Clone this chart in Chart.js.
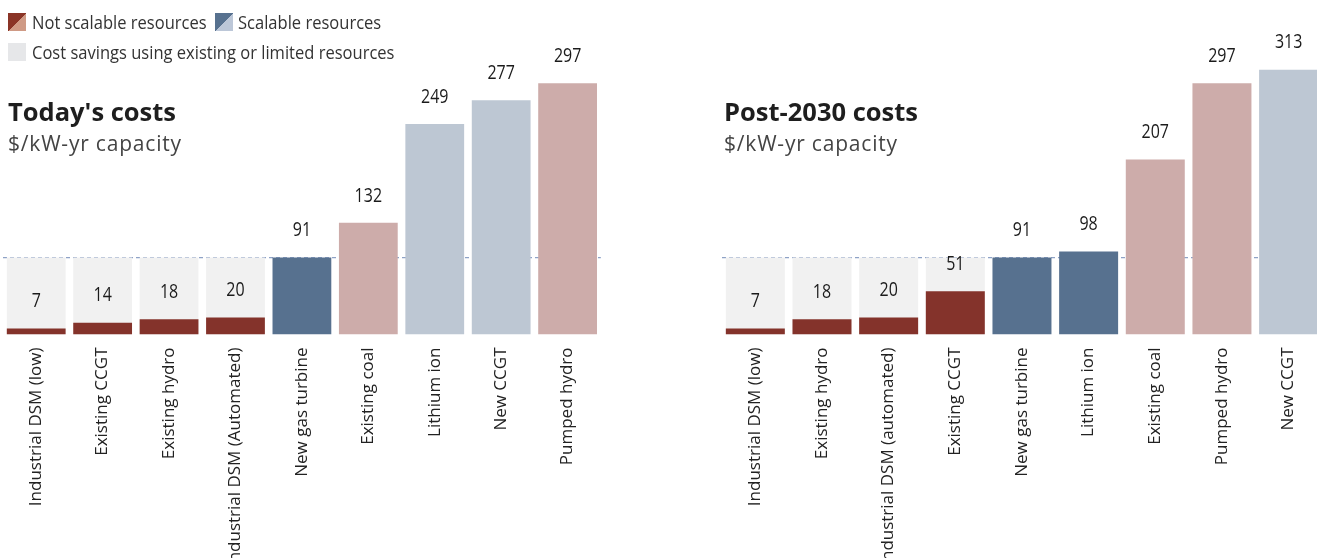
<!DOCTYPE html>
<html>
<head>
<meta charset="utf-8">
<script src="https://cdn.jsdelivr.net/npm/chart.js@4/dist/chart.umd.min.js"></script>
<style>
  body { margin: 0; background: #fff; }
  #wrap { position: relative; width: 1317px; height: 558px; overflow: hidden; font-family: "Open Sans", sans-serif; }
  canvas { position: absolute; top: 0; }
  .txt { position: absolute; white-space: nowrap; z-index: 2; }
  .leg { font-size: 19px; color: #333; transform: scaleX(0.87); transform-origin: left top; line-height: 20px; }
  .sw { position: absolute; width: 18px; height: 18px; z-index: 2; }
  .title { font-weight: 700; font-size: 25.5px; color: #1e1e1e; line-height: 30px; }
  .sub { font-size: 21px; color: #444; line-height: 24px; letter-spacing: 0.8px; }
</style>
</head>
<body>
<div id="wrap">
  <div class="sw" style="left:8px;top:13px;background:linear-gradient(to bottom right,#8a3426 50%,#cf9a85 50%);"></div>
  <div class="txt leg" style="left:32px;top:12px;">Not scalable resources</div>
  <div class="sw" style="left:215px;top:13px;background:linear-gradient(to bottom right,#57718f 50%,#bcc7d8 50%);"></div>
  <div class="txt leg" style="left:238px;top:12px;">Scalable resources</div>
  <div class="sw" style="left:8px;top:43px;background:#e6e7e9;"></div>
  <div class="txt leg" style="left:32px;top:42px;">Cost savings using existing or limited resources</div>

  <div class="txt title" style="left:8px;top:96px;">Today's costs</div>
  <div class="txt sub" style="left:8px;top:131px;">$/kW-yr capacity</div>
  <div class="txt title" style="left:724px;top:96px;">Post-2030 costs</div>
  <div class="txt sub" style="left:724px;top:131px;">$/kW-yr capacity</div>

  <canvas id="today" width="598" height="558" style="left:3px;"></canvas>
  <canvas id="post" width="600" height="558" style="left:722px;"></canvas>
</div>
<script>
// today's costs
var todayLabels = ['Industrial DSM (low)', 'Existing CCGT', 'Existing hydro', 'Industrial DSM (Automated)',
  'New gas turbine', 'Existing coal', 'Lithium ion', 'New CCGT', 'Pumped hydro'];
var todayCosts = [7, 14, 18, 20, 91, 132, 249, 277, 297];
var todaySavings = [91, 91, 91, 91, null, null, null, null, null];
var todayKinds = ['limited', 'limited', 'limited', 'limited', 'scalable', 'notScalable', 'scalableHigh', 'scalableHigh', 'notScalable'];

// post-2030 costs
var postLabels = ['Industrial DSM (low)', 'Existing hydro', 'Industrial DSM (automated)', 'Existing CCGT',
  'New gas turbine', 'Lithium ion', 'Existing coal', 'Pumped hydro', 'New CCGT'];
var postCosts = [7, 18, 20, 51, 91, 98, 207, 297, 313];
var postSavings = [91, 91, 91, 91, null, null, null, null, null];
var postKinds = ['limited', 'limited', 'limited', 'limited', 'scalable', 'scalable', 'notScalable', 'notScalable', 'scalableHigh'];

var threshold = 91;

var kindColors = {
  limited: '#84332b',
  scalable: '#57718f',
  notScalable: '#cdacaa',
  scalableHigh: '#bdc7d3'
};

// dashed line at the new gas turbine cost, drawn under the bars
var thresholdLine = {
  id: 'thresholdLine',
  beforeDatasetsDraw: function(chart) {
    var ctx = chart.ctx, area = chart.chartArea;
    var y = chart.scales.y.getPixelForValue(threshold);
    ctx.save();
    ctx.strokeStyle = '#8ea2c6';
    ctx.lineWidth = 1.3;
    ctx.setLineDash([4, 3]);
    ctx.beginPath();
    ctx.moveTo(area.left, y);
    ctx.lineTo(area.right, y);
    ctx.stroke();
    ctx.restore();
  }
};

// value labels above each cost bar
var valueLabels = {
  id: 'valueLabels',
  afterDatasetsDraw: function(chart) {
    var ctx = chart.ctx;
    var meta = chart.getDatasetMeta(0);
    var values = chart.data.datasets[0].data;
    ctx.save();
    ctx.font = '20px "Open Sans"';
    ctx.fillStyle = '#1b1b1b';
    ctx.textAlign = 'center';
    ctx.textBaseline = 'middle';
    meta.data.forEach(function(bar, i) {
      ctx.save();
      ctx.translate(bar.x, bar.y - 27);
      ctx.scale(0.8, 1);
      ctx.fillText(values[i], 0, 0);
      ctx.restore();
    });
    ctx.restore();
  }
};

makeChart = function(id, labels, costs, savings, kinds) {
  return new Chart(document.getElementById(id), {
    type: 'bar',
    data: {
      labels: labels,
      datasets: [
        {
          data: costs,
          backgroundColor: kinds.map(function(k) { return kindColors[k]; }),
          borderWidth: 0,
          grouped: false,
          barPercentage: 0.885,
          categoryPercentage: 1
        },
        {
          data: savings,
          backgroundColor: '#f1f1f1',
          borderWidth: 0,
          grouped: false,
          barPercentage: 0.885,
          categoryPercentage: 1
        }
      ]
    },
    options: {
      responsive: false,
      animation: false,
      layout: { padding: { top: 38.5, left: 0, right: 0, bottom: 0 } },
      plugins: {
        legend: { display: false },
        tooltip: { enabled: false }
      },
      scales: {
        x: {
          grid: { display: false, drawTicks: false },
          border: { display: false },
          ticks: {
            autoSkip: false,
            maxRotation: 90,
            minRotation: 90,
            padding: 13,
            color: '#222',
            font: { family: 'Open Sans', size: 17 }
          },
          afterFit: function(axis) { axis.height = 558 - 334.5; }
        },
        y: {
          display: false,
          min: 0,
          max: 350
        }
      }
    },
    plugins: [thresholdLine, valueLabels]
  });
}

var chartToday = makeChart('today', todayLabels, todayCosts, todaySavings, todayKinds);
var chartPost = makeChart('post', postLabels, postCosts, postSavings, postKinds);
</script>
</body>
</html>
